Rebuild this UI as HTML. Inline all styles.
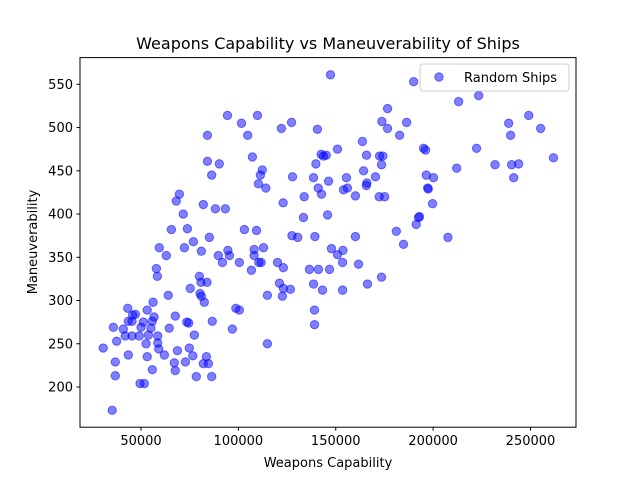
<!DOCTYPE html>
<html><head><meta charset="utf-8"><style>
body{margin:0;background:#fff;}
svg text{font-family:"DejaVu Sans","Liberation Sans",sans-serif;fill:#000;}
</style></head><body>
<svg id="chart" width="640" height="480" viewBox="0 0 640 480" xmlns="http://www.w3.org/2000/svg">
<rect width="640" height="480" fill="#fff"/>
<text x="328" y="49" font-size="16" text-anchor="middle">Weapons Capability vs Maneuverability of Ships</text>
<g id="points"></g>
<rect x="80" y="57.6" width="496" height="369.6" fill="none" stroke="#000" stroke-width="1"/>
<g id="xticks"></g>
<g id="yticks"></g>
<text x="328" y="467" font-size="13" text-anchor="middle">Weapons Capability</text>
<text transform="translate(37,242) rotate(-90)" font-size="13" text-anchor="middle">Maneuverability</text>
<g>
<rect x="420" y="64" width="149" height="27" rx="3" fill="#fff" fill-opacity="0.8" stroke="#ccc"/>
<circle cx="439" cy="77" r="4.2" fill="#0000ff" fill-opacity="0.5" stroke="#0000ff" stroke-opacity="0.5"/>
<text x="464" y="82" font-size="13">Random Ships</text>
</g>
</svg>
<script>
const weaponsCapability = [59400,72300,76900,81000,63000,94600,89700,95400,91800,100500,108100,108100,110500,111700,106700,57900,58400,80000,80800,83900,75300,64000,80300,81000,82500,56200,43200,53200,47100,45700,56700,67600,98700,100500,73500,74500,86600,43500,45400,51200,55800,35800,40900,50000,55100,64500,96900,41900,45400,49100,53800,58600,77400,37500,52600,58600,30600,59100,68700,74800,43500,53200,62000,76600,83600,36800,67100,72800,82000,84600,55800,67600,36800,78400,86300,49500,51700,35200,
94400,109800,101600,84100,104800,84100,90200,86300,107200,112300,111300,110300,114100,69700,68100,82000,88200,93300,71700,65600,73800,103100,109300,85100,112900,
147300,190000,176600,173700,186400,176600,182800,122100,127300,140600,163700,150900,142500,145100,143700,139800,165800,172500,174200,173500,164300,170400,166000,165700,155500,146300,138600,127800,141000,142700,154000,156000,160100,172300,175100,133800,123000,133400,145800,192500,191300,181100,184800,127500,130500,139300,160100,147800,153700,150900,
153500,120100,123100,136500,141100,146800,161700,173500,166300,121100,123100,126700,138600,143200,153500,114900,122600,139100,139100,114900,
213100,223400,238800,249100,255200,239800,195100,196100,222300,261800,212100,231800,240300,243900,241400,196500,200200,197200,197500,199700,193000,207600];
const maneuverability = [361,361,368,357,352,358,352,352,344,344,359,352,344,344,335,337,328,328,321,321,314,306,308,305,298,298,291,289,284,283,281,282,291,289,275,274,276,276,276,275,276,269,267,269,268,268,267,259,259,259,260,259,260,253,250,251,245,244,242,245,237,235,237,236,235,229,228,229,227,227,220,219,213,212,212,204,204,173,
514,514,505,491,491,461,458,445,466,451,445,435,430,423,415,411,406,406,400,382,383,382,381,373,361,
561,553,522,507,506,499,491,499,506,498,484,475,469,468,467,458,468,467,467,457,450,443,436,433,442,438,442,443,430,423,428,430,421,420,420,420,413,396,399,396,388,380,365,375,373,374,374,360,358,353,
344,344,338,336,336,336,342,327,319,320,314,313,319,312,312,306,305,289,272,250,
530,537,505,514,499,491,476,474,476,465,453,457,457,458,442,445,442,430,429,412,397,373];
const xTickValues = [50000,100000,150000,200000,250000];
const yTickValues = [200,250,300,350,400,450,500,550];

const X0=80, X1=576, Y0=427.2, Y1=57.6;
const xMin=18678, xMax=273363, yMin=153.5, yMax=580.9;
function xScale(v){return X0+(v-xMin)/(xMax-xMin)*(X1-X0);}
function yScale(v){return Y0-(v-yMin)/(yMax-yMin)*(Y0-Y1);}
const NS='http://www.w3.org/2000/svg';
const pg=document.getElementById('points');
for(let i=0;i<weaponsCapability.length;i++){
  const c=document.createElementNS(NS,'circle');
  c.setAttribute('cx',xScale(weaponsCapability[i]).toFixed(2));
  c.setAttribute('cy',yScale(maneuverability[i]).toFixed(2));
  c.setAttribute('r','4.2');
  c.setAttribute('fill','#0000ff');
  c.setAttribute('fill-opacity','0.5');
  c.setAttribute('stroke','#0000ff');
  c.setAttribute('stroke-opacity','0.5');
  
  
  pg.appendChild(c);
}
const xg=document.getElementById('xticks');
xTickValues.forEach(v=>{
  const x=xScale(v);
  const l=document.createElementNS(NS,'line');
  l.setAttribute('x1',x);l.setAttribute('x2',x);l.setAttribute('y1',427.2);l.setAttribute('y2',430.7);
  l.setAttribute('stroke','#000');
  
  
  xg.appendChild(l);
  const t=document.createElementNS(NS,'text');
  t.setAttribute('x',x);t.setAttribute('y',445);t.setAttribute('font-size','13');t.setAttribute('text-anchor','middle');
  t.textContent=String(v);
  
  
  xg.appendChild(t);
});
const yg=document.getElementById('yticks');
yTickValues.forEach(v=>{
  const y=yScale(v);
  const l=document.createElementNS(NS,'line');
  l.setAttribute('x1',76.5);l.setAttribute('x2',80);l.setAttribute('y1',y);l.setAttribute('y2',y);
  l.setAttribute('stroke','#000');
  
  
  yg.appendChild(l);
  const t=document.createElementNS(NS,'text');
  t.setAttribute('x',73);t.setAttribute('y',y+4.5);t.setAttribute('font-size','13');t.setAttribute('text-anchor','end');
  t.textContent=String(v);
  
  
  yg.appendChild(t);
});
</script>
</body></html>
